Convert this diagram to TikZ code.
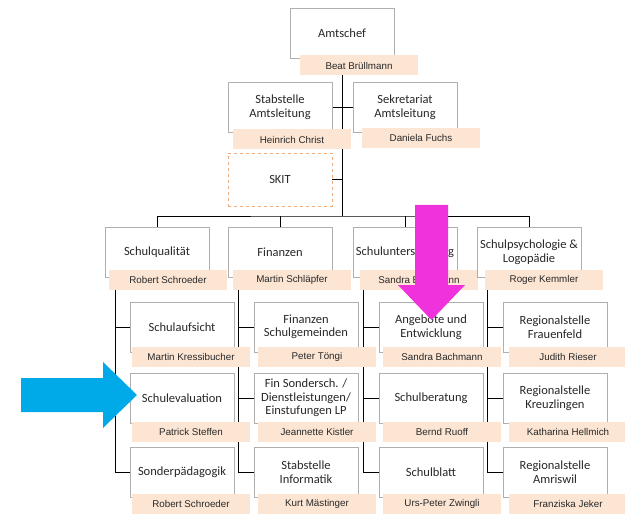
\documentclass[tikz,border=0pt]{standalone}
\usepackage{fontspec}
\setmainfont{Carlito}
\newfontfamily\namefont{Liberation Sans}
\usetikzlibrary{backgrounds}
\definecolor{peach}{RGB}{252,229,211}
\definecolor{boxgray}{RGB}{175,175,175}
\definecolor{skitorange}{RGB}{238,172,125}
\definecolor{inkgray}{RGB}{40,40,40}
\definecolor{pointblue}{RGB}{0,170,232}
\definecolor{pointpink}{RGB}{240,50,220}
\begin{document}
\begin{tikzpicture}[x=1pt,y=-1pt,
    unit/.style={draw=boxgray,line width=0.6pt,fill=white,text=inkgray,
      minimum width=104pt,minimum height=50pt,inner sep=1pt,align=center,
      font=\fontsize{12.5}{13.5}\selectfont},
    skitbox/.style={unit,draw=skitorange,dashed,minimum height=53pt},
    who/.style={fill=peach,text=inkgray,minimum width=118pt,minimum height=20pt,
      inner sep=0pt,font=\namefont\fontsize{9.8}{11}\selectfont},
    link/.style={line width=2.8pt,black}]
  \useasboundingbox (0,0) rectangle (625,519);

  \node[unit] (chef) at (342,33) {Amtschef};
  \node[who] (chefname) at (359,65.5) {Beat Brüllmann};
  \node[unit] (stab) at (280,107) {Stabstelle\\Amtsleitung};
  \node[who] (stabname) at (292,139.5) {Heinrich Christ};
  \node[unit] (sekr) at (405,107) {Sekretariat\\Amtsleitung};
  \node[who] (sekrname) at (421,138) {Daniela Fuchs};
  \node[skitbox] (skit) at (280,179.5) {SKIT};
  \coordinate (bus) at (342,216);

  \node[unit] (qual) at (157,252) {Schulqualität};
  \node[who] (qualname) at (168,280) {Robert Schroeder};
  \node[unit] (fin) at (280,252) {Finanzen};
  \node[who] (finname) at (292,280) {Martin Schläpfer};
  \node[unit] (unt) at (405,252) {Schulunterstützung};
  \node[who] (untname) at (419,280) {Sandra Bachmann};
  \node[unit] (psy) at (529,252) {Schulpsychologie \&\\Logopädie};
  \node[who] (psyname) at (544,280) {Roger Kemmler};

  \node[unit] (aufs) at (182,327) {Schulaufsicht};
  \node[who] (aufsname) at (191,357) {Martin Kressibucher};
  \node[unit] (eval) at (182,398) {Schulevaluation};
  \node[who] (evalname) at (191,432) {Patrick Steffen};
  \node[unit] (sped) at (182,472) {Sonderpädagogik};
  \node[who] (spedname) at (191,504) {Robert Schroeder};

  \node[unit] (fgem) at (306,327) {Finanzen\\Schulgemeinden};
  \node[who] (fgemname) at (317,357) {Peter Töngi};
  \node[unit] (fson) at (306,398) {Fin Sondersch. /\\Dienstleistungen/\\Einstufungen LP};
  \node[who] (fsonname) at (317,432) {Jeannette Kistler};
  \node[unit] (info) at (306,472) {Stabstelle\\Informatik};
  \node[who] (infoname) at (317,504) {Kurt Mästinger};

  \node[unit] (ang) at (431,327) {Angebote und\\Entwicklung};
  \node[who] (angname) at (442,357) {Sandra Bachmann};
  \node[unit] (ber) at (431,398) {Schulberatung};
  \node[who] (bername) at (442,432) {Bernd Ruoff};
  \node[unit] (blatt) at (431,472) {Schulblatt};
  \node[who] (blattname) at (442,504) {Urs-Peter Zwingli};

  \node[unit] (frau) at (555,327) {Regionalstelle\\Frauenfeld};
  \node[who] (frauname) at (568,357) {Judith Rieser};
  \node[unit] (kreuz) at (555,398) {Regionalstelle\\Kreuzlingen};
  \node[who] (kreuzname) at (568,432) {Katharina Hellmich};
  \node[unit] (amr) at (555,472) {Regionalstelle\\Amriswil};
  \node[who] (amrname) at (568,504) {Franziska Jeker};

  \begin{scope}[on background layer,link]
    \draw (chef.south) -- (bus);
    \draw (stab.east) -- (sekr.west);
    \draw (skit.east) -- (skit.east -| bus);
    \draw (qual.north) |- (bus) -| (psy.north);
    \draw (fin.north) -- (fin.north |- bus);
    \draw (unt.north) -- (unt.north |- bus);

    \draw ([xshift=10pt]qual.south west) |- (aufs.west);
    \draw ([xshift=10pt]qual.south west) |- (eval.west);
    \draw ([xshift=10pt]qual.south west) |- (sped.west);
    \draw ([xshift=10pt]fin.south west) |- (fgem.west);
    \draw ([xshift=10pt]fin.south west) |- (fson.west);
    \draw ([xshift=10pt]fin.south west) |- (info.west);
    \draw ([xshift=10pt]unt.south west) |- (ang.west);
    \draw ([xshift=10pt]unt.south west) |- (ber.west);
    \draw ([xshift=10pt]unt.south west) |- (blatt.west);
    \draw ([xshift=10pt]psy.south west) |- (frau.west);
    \draw ([xshift=10pt]psy.south west) |- (kreuz.west);
    \draw ([xshift=10pt]psy.south west) |- (amr.west);
  \end{scope}

  \fill[pointblue] (21,378) -- (103,378) -- (103,362) -- (137,395)
    -- (103,428) -- (103,412) -- (21,412) -- cycle;
  \fill[pointpink] (415,205) -- (448,205) -- (448,285) -- (465,285)
    -- (431.5,320) -- (398,285) -- (415,285) -- cycle;
\end{tikzpicture}
\end{document}
